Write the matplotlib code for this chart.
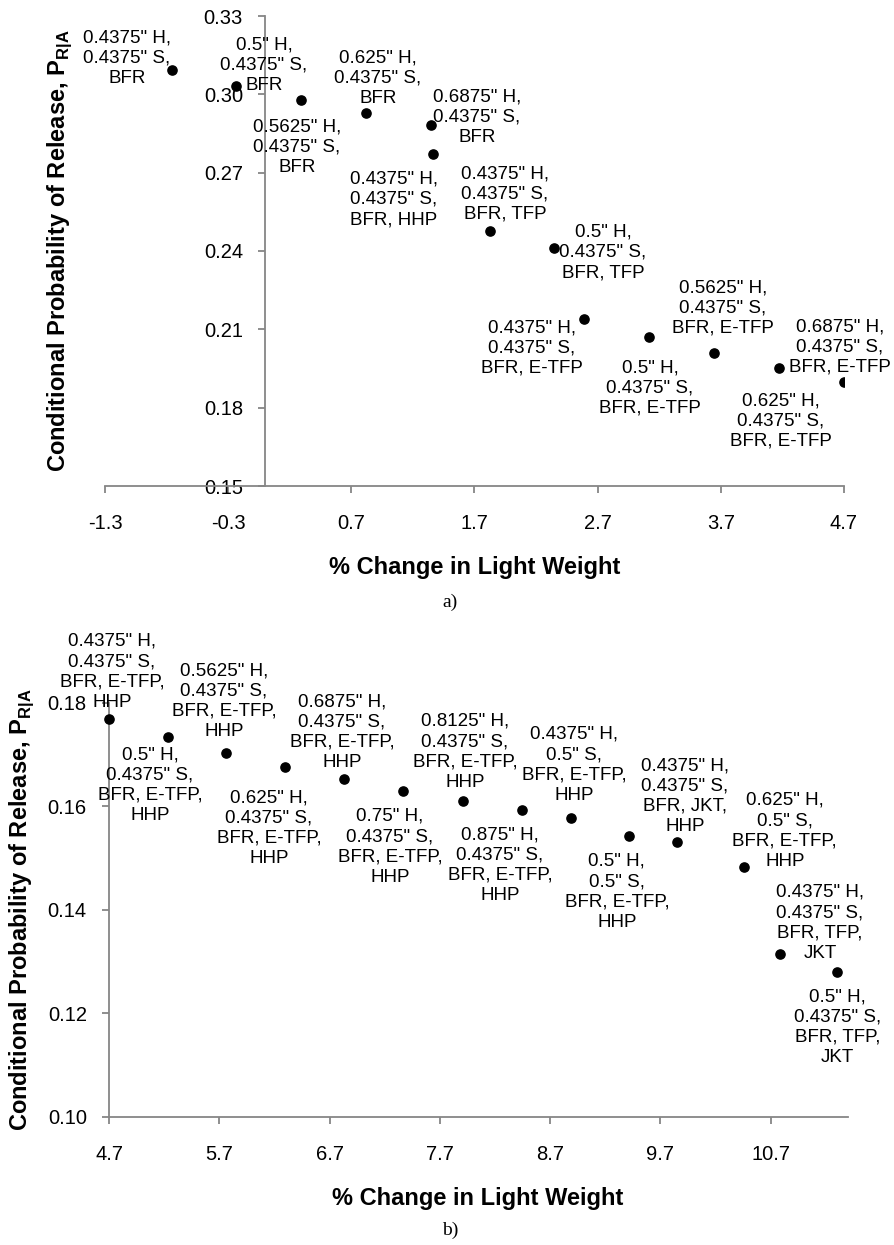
import matplotlib
matplotlib.use("Agg")
import matplotlib.pyplot as plt
from matplotlib.ticker import FixedLocator, FormatStrFormatter

plt.rcParams['font.family'] = ['Liberation Sans', 'DejaVu Sans']
plt.rcParams['mathtext.fontset'] = 'custom'
plt.rcParams['mathtext.rm'] = 'Liberation Sans'
plt.rcParams['mathtext.bf'] = 'Liberation Sans:bold'

# ---------------- data: chart a) ----------------
a_x = [-0.756, -0.237, 0.291, 0.818, 1.346, 1.362, 1.825, 2.345, 2.588,
       3.116, 3.643, 4.171, 4.698]
a_y = [0.3093, 0.3032, 0.2978, 0.2928, 0.2883, 0.2771, 0.2477, 0.2411,
       0.2140, 0.2071, 0.2009, 0.1952, 0.1898]
a_labels = [
    '0.4375" H,\n0.4375" S,\nBFR',
    '0.5" H,\n0.4375" S,\nBFR',
    '0.5625" H,\n0.4375" S,\nBFR',
    '0.625" H,\n0.4375" S,\nBFR',
    '0.6875" H,\n0.4375" S,\nBFR',
    '0.4375" H,\n0.4375" S,\nBFR, HHP',
    '0.4375" H,\n0.4375" S,\nBFR, TFP',
    '0.5" H,\n0.4375" S,\nBFR, TFP',
    '0.4375" H,\n0.4375" S,\nBFR, E-TFP',
    '0.5" H,\n0.4375" S,\nBFR, E-TFP',
    '0.5625" H,\n0.4375" S,\nBFR, E-TFP',
    '0.625" H,\n0.4375" S,\nBFR, E-TFP',
    '0.6875" H,\n0.4375" S,\nBFR, E-TFP',
]
a_xticks = [-1.3, -0.3, 0.7, 1.7, 2.7, 3.7, 4.7]
a_yticks = [0.15, 0.18, 0.21, 0.24, 0.27, 0.30, 0.33]

# ---------------- data: chart b) ----------------
b_x = [4.700, 5.235, 5.760, 6.295, 6.830, 7.365, 7.909, 8.443, 8.887,
       9.413, 9.848, 10.455, 10.782, 11.298]
b_y = [0.1769, 0.1734, 0.1703, 0.1676, 0.1653, 0.1630, 0.1611, 0.1593,
       0.1578, 0.1543, 0.1531, 0.1483, 0.1315, 0.1280]
b_labels = [
    '0.4375" H,\n0.4375" S,\nBFR, E-TFP,\nHHP',
    '0.5" H,\n0.4375" S,\nBFR, E-TFP,\nHHP',
    '0.5625" H,\n0.4375" S,\nBFR, E-TFP,\nHHP',
    '0.625" H,\n0.4375" S,\nBFR, E-TFP,\nHHP',
    '0.6875" H,\n0.4375" S,\nBFR, E-TFP,\nHHP',
    '0.75" H,\n0.4375" S,\nBFR, E-TFP,\nHHP',
    '0.8125" H,\n0.4375" S,\nBFR, E-TFP,\nHHP',
    '0.875" H,\n0.4375" S,\nBFR, E-TFP,\nHHP',
    '0.4375" H,\n0.5" S,\nBFR, E-TFP,\nHHP',
    '0.5" H,\n0.5" S,\nBFR, E-TFP,\nHHP',
    '0.4375" H,\n0.4375" S,\nBFR, JKT,\nHHP',
    '0.625" H,\n0.5" S,\nBFR, E-TFP,\nHHP',
    '0.4375" H,\n0.4375" S,\nBFR, TFP,\nJKT',
    '0.5" H,\n0.4375" S,\nBFR, TFP,\nJKT',
]
b_xticks = [4.7, 5.7, 6.7, 7.7, 8.7, 9.7, 10.7]
b_yticks = [0.10, 0.12, 0.14, 0.16, 0.18]

x_title = '% Change in Light Weight'
y_title = r'Conditional Probability of Release, P$_{\mathbf{R|A}}$'

# ---------------- layout (label offsets in pixels) ----------------
a_off = [(-45, 12), (28, 21), (-4, -47), (12, 35), (46, 8), (-39, -45),
         (15, 37), (49, -4), (-52, -29), (1, -51), (9, 45), (2, -53), (-4, 35)]
b_off = [(3, 47), (-18, -48), (-2, 52), (-16, -61), (-2, 47), (-13, -56),
         (2, 49), (-22, -55), (3, 53), (-12, -56), (8, 46), (41, 36),
         (40, 31), (1, -55)]

W, H = 895, 1245
DPI = 100
fig = plt.figure(figsize=(W / DPI, H / DPI), dpi=DPI)

GREY = '#868686'
LABEL_FS = 13.5
LINESP = 1.26


def px_rect(l, t, r, b):
    return [l / W, 1 - b / H, (r - l) / W, (b - t) / H]


def style(ax, xticks, yticks, xlim, ylim, yfmt):
    ax.set_xlim(*xlim)
    ax.set_ylim(*ylim)
    for s in ('top', 'right'):
        ax.spines[s].set_visible(False)
    for s in ('left', 'bottom'):
        ax.spines[s].set_color(GREY)
        ax.spines[s].set_linewidth(1.3)
    ax.xaxis.set_major_locator(FixedLocator(xticks))
    ax.yaxis.set_major_locator(FixedLocator(yticks))
    ax.xaxis.set_major_formatter(FormatStrFormatter('%.1f'))
    ax.yaxis.set_major_formatter(FormatStrFormatter(yfmt))
    ax.tick_params(axis='x', direction='out', length=5, width=1.3,
                   color=GREY, labelsize=14.5, pad=15, labelcolor='black')
    ax.tick_params(axis='y', direction='out', length=5, width=1.3,
                   color=GREY, labelsize=14.5, pad=11, labelcolor='black')
    ax.set_facecolor('none')


# chart a
ax1 = fig.add_axes(px_rect(105, 16, 844, 486))
style(ax1, a_xticks, a_yticks, (-1.3, 4.7), (0.15, 0.33), '%.2f')
ax1.spines['left'].set_position(('data', 0.0))
ax1.scatter(a_x, a_y, s=44, color='black', zorder=3)
for x, y, lab, (dx, dy) in zip(a_x, a_y, a_labels, a_off):
    ax1.annotate(lab, (x, y), xytext=(dx, dy), textcoords='offset pixels',
                 ha='center', va='center', multialignment='center',
                 fontsize=LABEL_FS, linespacing=LINESP, zorder=4)

# chart b
ax2 = fig.add_axes(px_rect(109, 703, 848, 1117))
style(ax2, b_xticks, b_yticks, (4.7, 11.4), (0.10, 0.18), '%.2f')
ax2.scatter(b_x, b_y, s=44, color='black', zorder=3, clip_on=False)
for x, y, lab, (dx, dy) in zip(b_x, b_y, b_labels, b_off):
    ax2.annotate(lab, (x, y), xytext=(dx, dy), textcoords='offset pixels',
                 ha='center', va='center', multialignment='center',
                 fontsize=LABEL_FS, linespacing=LINESP, zorder=4,
                 annotation_clip=False)

# titles
fig.text(474.5 / W, 1 - 567 / H, x_title, ha='center', va='center',
         fontsize=17, fontweight='bold')
fig.text(478 / W, 1 - 1198 / H, x_title, ha='center', va='center',
         fontsize=17, fontweight='bold')
fig.text(65 / W, 1 - 251 / H, y_title, rotation=90, rotation_mode='anchor',
         ha='center', va='baseline', fontsize=17, fontweight='bold')
fig.text(27 / W, 1 - 910 / H, y_title, rotation=90, rotation_mode='anchor',
         ha='center', va='baseline', fontsize=17, fontweight='bold')

fig.text(450 / W, 1 - 602 / H, 'a)', ha='center', va='center',
         fontsize=14, family='Liberation Serif')
fig.text(450 / W, 1 - 1230 / H, 'b)', ha='center', va='center',
         fontsize=14, family='Liberation Serif')

fig.savefig('out.png', dpi=DPI, facecolor='white')
